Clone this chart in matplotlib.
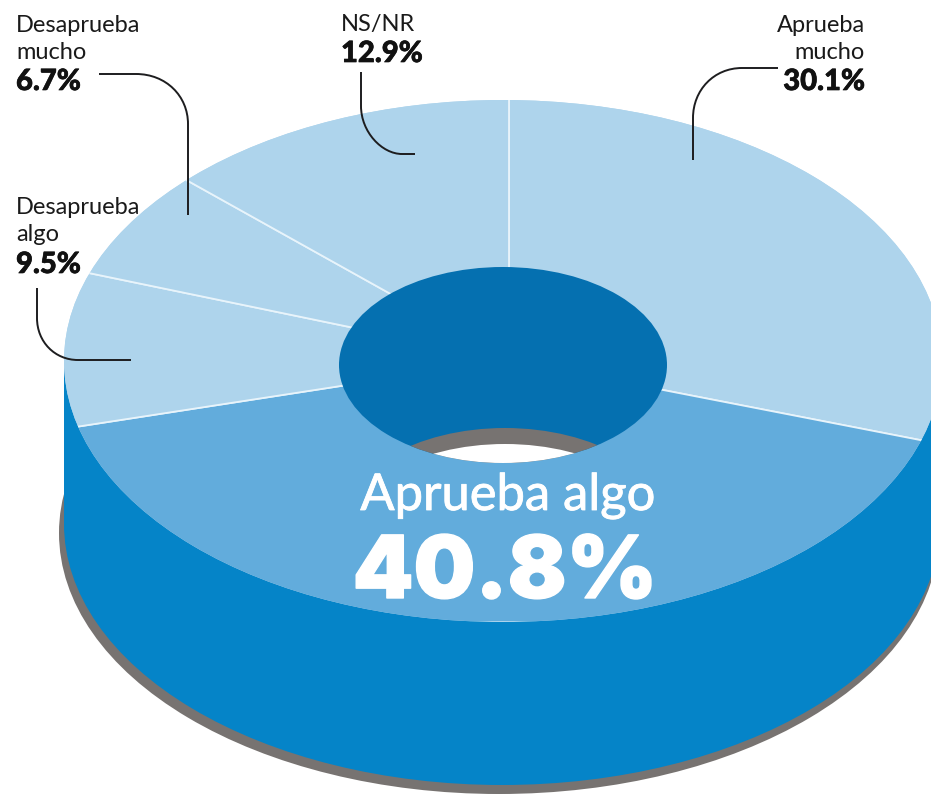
import matplotlib
matplotlib.use('Agg')
import matplotlib.pyplot as plt
import matplotlib.patheffects as pe
from matplotlib.patches import Ellipse, Rectangle, PathPatch
from matplotlib.path import Path

W, H = 931, 794

labels = ['Aprueba\nmucho', 'Aprueba algo', 'Desaprueba\nalgo', 'Desaprueba\nmucho', 'NS/NR']
values = [30.1, 40.8, 9.5, 6.7, 12.9]
colors = ['#aed4ec', '#62acdc', '#aed4ec', '#aed4ec', '#aed4ec']

NARROW = ['Lato', 'DejaVu Sans']
HEAVY = ['Inter', 'DejaVu Sans']

fig = plt.figure(figsize=(W / 100, H / 100), dpi=100, facecolor='white')

# pixel axes for the body of the donut
back = fig.add_axes([0, 0, 1, 1], zorder=0)
back.set_xlim(0, W)
back.set_ylim(H, 0)
back.axis('off')

back.add_patch(Ellipse((499, 533), 2 * 440, 2 * 261, fc='#777371', ec='none'))
back.add_patch(Ellipse((502, 524), 2 * 438, 2 * 261, fc='#0584c8', ec='none'))
back.add_patch(Rectangle((64, 361), 880, 163, fc='#0584c8', ec='none'))
rim = Ellipse((503, 361), 2 * 439, 2 * 261, fc='#aed4ec', ec='none')
back.add_patch(rim)

# top face, the pie squashed by its axes box
cx, cy, a, b = 509, 360, 445, 261
pie_ax = fig.add_axes([(cx - a) / W, 1 - (cy + b) / H, 2 * a / W, 2 * b / H], zorder=1)
wedges, _ = pie_ax.pie(values, colors=colors, startangle=90, counterclock=False, radius=1.03,
                       wedgeprops=dict(edgecolor='#e8f4fb', linewidth=1.3))
pie_ax.set_aspect('auto')
pie_ax.set_xlim(-1, 1)
pie_ax.set_ylim(-1, 1)
for w in wedges:
    w.set_clip_on(True)
    w.set_clip_path(rim)

front = fig.add_axes([0, 0, 1, 1], zorder=2)
front.set_xlim(0, W)
front.set_ylim(H, 0)
front.axis('off')
front.patch.set_alpha(0)

# hole
hole = Ellipse((503, 365), 2 * 164, 2 * 98, fc='#0570b0', ec='none')
front.add_patch(hole)
floor = Ellipse((505, 526), 2 * 164, 2 * 98, fc='#777371', ec='none')
front.add_patch(floor)
floor.set_clip_path(hole)
see_through = Ellipse((505, 542), 2 * 164, 2 * 98, fc='white', ec='none')
front.add_patch(see_through)
see_through.set_clip_path(hole)


def leader(points):
    codes = [Path.MOVETO, Path.LINETO, Path.CURVE4, Path.CURVE4, Path.CURVE4, Path.LINETO]
    front.add_patch(PathPatch(Path(points, codes), fc='none', ec='#1d1d1f', lw=1.4))


leader([(99, 74), (136, 74), (166, 74), (188, 96), (188, 124), (188, 215)])
leader([(37, 288), (37, 318), (37, 342), (55, 360), (78, 360), (131, 360)])
leader([(361, 72), (361, 106), (361, 132), (382, 154), (402, 154), (415, 154)])
leader([(778, 68), (742, 68), (714, 68), (693, 90), (693, 118), (693, 160)])


def label(i, x, y_name, y_value, ha='left'):
    front.text(x, y_name, labels[i], family=NARROW, fontsize=17, color='#1a1a1a', ha=ha, va='baseline',
               linespacing=1.37)
    front.text(x, y_value, f'{values[i]}%', family=['Lato', 'DejaVu Sans'], fontsize=21, fontweight='black',
               color='#111111', ha=ha, va='baseline',
               path_effects=[pe.withStroke(linewidth=0.5, foreground='#111111')])


label(0, 865, 59, 90, ha='right')
label(3, 16, 59, 90)
label(2, 16, 241, 273)
label(4, 341, 31, 62)

front.text(508, 510, labels[1], family=NARROW, fontsize=36.5, color='white', ha='center', va='baseline',
           path_effects=[pe.withStroke(linewidth=0.6, foreground='white')])
front.text(505, 598, f'{values[1]}%', family=HEAVY, fontsize=62.5, fontweight='black', color='white',
           ha='center', va='baseline', path_effects=[pe.withStroke(linewidth=1, foreground='white')])

fig.savefig('out.png', dpi=100)
